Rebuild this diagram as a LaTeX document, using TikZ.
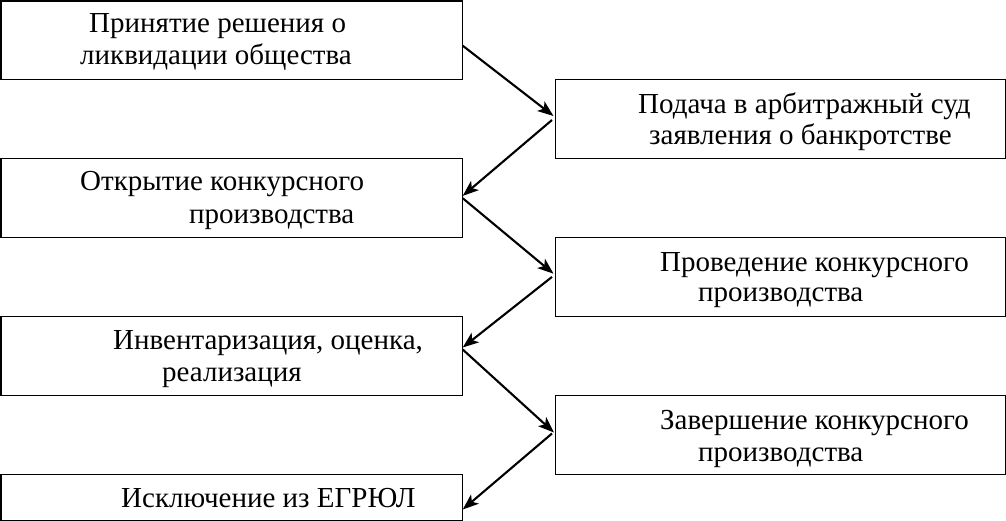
\documentclass[tikz,border=0pt]{standalone}
\usepackage{fontspec}
\setmainfont{Liberation Serif}
\usetikzlibrary{arrows.meta}
\begin{document}
\begin{tikzpicture}[x=1pt,y=-1pt,
  box/.style={draw=black, line width=1.2pt, rectangle, inner sep=0pt, anchor=north west},
  lbox/.style={box, minimum width=461pt, minimum height=78.8pt},
  rbox/.style={box, minimum width=450pt, minimum height=78.6pt},
  txt/.style={anchor=base west, inner sep=0pt, font=\fontsize{29}{32}\selectfont},
  arr/.style={line width=2.1pt, -{Stealth[length=16pt,width=12pt,inset=4pt]}}]
\useasboundingbox (0,0) rectangle (1006,521);
% boxes
\node[lbox] (b1) at (0.5,0.5) {};
\node[rbox] (b2) at (555,79.3) {};
\node[lbox] (b3) at (0.5,158.2) {};
\node[rbox] (b4) at (555,237.2) {};
\node[lbox] (b5) at (0.5,316.2) {};
\node[rbox] (b6) at (555,395.2) {};
\node[lbox, minimum height=46pt] (b7) at (0.5,474.2) {};
% texts
\node[txt] (t1a) at (89,32.5) {Принятие решения о};
\node[txt] (t1b) at (80,64.5) {ликвидации общества};
\node[txt] (t2a) at (638,113.5) {Подача в арбитражный суд};
\node[txt] (t2b) at (649,145) {заявления о банкротстве};
\node[txt] (t3a) at (80,191) {Открытие конкурсного};
\node[txt] (t3b) at (189,223.5) {производства};
\node[txt] (t4a) at (660,271.5) {Проведение конкурсного};
\node[txt] (t4b) at (698,301.5) {производства};
\node[txt] (t5a) at (113,349.5) {Инвентаризация, оценка,};
\node[txt] (t5b) at (162,381.5) {реализация};
\node[txt] (t6a) at (660,429.5) {Завершение конкурсного};
\node[txt] (t6b) at (698,461.5) {производства};
\node[txt] (t7a) at (121,507) {Исключение из ЕГРЮЛ};
% arrows
\draw[arr] ([yshift=-45.2pt]b1.north east) -- ([xshift=-1.5pt,yshift=-36.7pt]b2.north west);
\draw[arr] ([xshift=-3pt,yshift=-40.7pt]b2.north west) -- ([yshift=-37.7pt]b3.north east);
\draw[arr] ([yshift=-40pt]b3.north east) -- ([xshift=-1.5pt,yshift=-36.5pt]b4.north west);
\draw[arr] ([xshift=-3pt,yshift=-39.7pt]b4.north west) -- ([yshift=-31.3pt]b5.north east);
\draw[arr] ([yshift=-33.3pt]b5.north east) -- ([xshift=-1pt,yshift=-37.3pt]b6.north west);
\draw[arr] ([xshift=-3pt,yshift=-38.3pt]b6.north west) -- ([yshift=-35.3pt]b7.north east);
\end{tikzpicture}
\end{document}
